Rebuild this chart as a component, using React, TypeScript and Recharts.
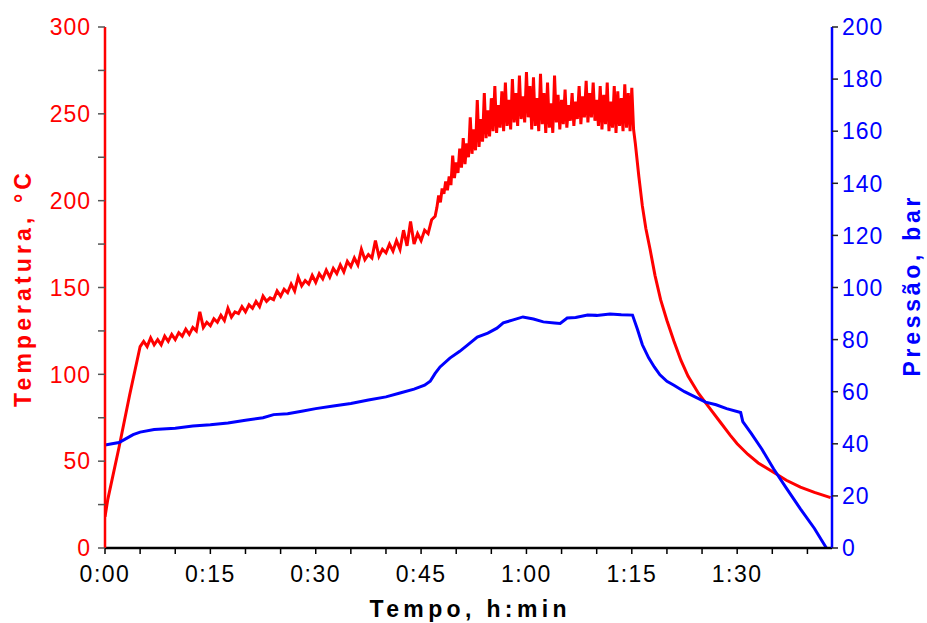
import { LineChart, Line, XAxis, YAxis } from "recharts";

const FONT = "'Liberation Sans', Arial, sans-serif";

// ticks
const timeTicks = [0, 5, 10, 15, 20, 25, 30, 35, 40, 45, 50, 55, 60, 65, 70, 75, 80, 85, 90, 95, 100];
const timeLabelTicks = [0, 15, 30, 45, 60, 75, 90];
const tempTicks = [0, 25, 50, 75, 100, 125, 150, 175, 200, 225, 250, 275, 300];
const tempLabelTicks = [0, 50, 100, 150, 200, 250, 300];
const pressureTicks = [0, 20, 40, 60, 80, 100, 120, 140, 160, 180, 200];

// temperatura (°C) vs tempo (min)
const tempHeating: [number, number][] = [
  [0, 18], [0.4, 28], [2, 58], [3.5, 88], [5, 116],
];

// 5.5 .. 47 min, every 0.5 min
const riseStart = 5.5;
const riseStep = 0.5;
const tempRise = [
  119, 116, 121, 117, 120, 117, 122, 119, 123, 120,
  124, 122, 126, 123, 127, 125, 136, 127, 130, 128,
  132, 130, 134, 131, 138, 133, 136, 135, 139, 136,
  140, 138, 142, 139, 145, 142, 144, 143, 148, 145,
  149, 147, 152, 148, 156, 151, 154, 152, 157, 153,
  158, 155, 160, 156, 161, 158, 163, 159, 165, 162,
  167, 163, 172, 166, 169, 167, 177, 168, 172, 170,
  175, 171, 177, 172, 183, 174, 188, 175, 181, 177,
  183, 181, 189, 191,
];

// 47.25 .. 75.25 min, every 0.25 min (one row per minute)
const plateauStart = 47.25;
const plateauStep = 0.25;
const tempPlateau = [
  196, 203, 199, 207,
  204, 211, 206, 214,
  209, 226, 213, 222,
  216, 230, 219, 236,
  221, 233, 225, 248,
  227, 241, 229, 258,
  231, 247, 234, 262,
  236, 252, 237, 259,
  240, 266, 239, 255,
  242, 263, 240, 268,
  243, 258, 241, 270,
  245, 262, 243, 272,
  247, 260, 245, 274,
  248, 266, 241, 271,
  243, 259, 240, 273,
  244, 262, 239, 268,
  242, 256, 239, 272,
  245, 261, 241, 258,
  244, 264, 242, 255,
  246, 262, 243, 257,
  247, 266, 244, 260,
  248, 269, 245, 262,
  248, 268, 246, 258,
  243, 266, 241, 261,
  244, 268, 240, 257,
  242, 266, 239, 263,
  243, 259, 240, 267,
  242, 262, 240, 265,
  241,
];

const tempCooling: [number, number][] = [
  [75.5, 233], [76, 214], [76.5, 197], [77, 184], [77.6, 172], [78.3, 157],
  [79.1, 143], [80, 131], [81, 119], [82, 108], [83, 99], [84.5, 89],
  [86, 81], [87.5, 73], [89, 65], [90, 60], [91.5, 54], [93, 49],
  [95.4, 43], [97, 39], [99, 35], [101, 32], [103.3, 29],
];

// pressão (bar) vs tempo (min)
const pressurePoints: [number, number][] = [
  [0, 39.5], [1, 40], [2, 40.5], [3, 42], [4, 43.5], [5, 44.5], [7, 45.5],
  [10, 46], [12.5, 46.8], [15, 47.3], [17.5, 48], [20, 49], [22.5, 50],
  [24, 51.2], [26, 51.5], [28, 52.5], [30, 53.5], [32.5, 54.5], [35, 55.5],
  [37.5, 56.8], [40, 58], [42, 59.5], [44, 61], [45.5, 62.5], [46.3, 64],
  [47, 67], [47.7, 69.5], [49.1, 72.9], [50.5, 75.5], [51.6, 77.9], [53, 81],
  [54.5, 82.5], [55.8, 84.4], [56.7, 86.4], [58, 87.5], [59.5, 88.7],
  [61, 87.9], [62.4, 86.8], [64, 86.4], [64.8, 86.2], [65.8, 88.3], [67, 88.5],
  [68.7, 89.4], [70, 89.3], [71.9, 89.8], [73.5, 89.5], [75.1, 89.4],
  [75.8, 84], [76.5, 78], [77.4, 73], [78.2, 69.5], [79, 66.5], [80, 64],
  [81, 62.5], [82.5, 60], [84, 58], [85.5, 56], [87, 55], [88.5, 53.5],
  [90.5, 52], [90.8, 48.5], [92, 44], [93.5, 38], [95.2, 30.3], [97, 23],
  [99, 15], [101, 7.5], [102.7, 0],
];

const tempData = [
  ...tempHeating.map(([t, v]) => ({ t, temp: v })),
  ...tempRise.map((v, i) => ({ t: riseStart + i * riseStep, temp: v })),
  ...tempPlateau.map((v, i) => ({ t: plateauStart + i * plateauStep, temp: v })),
  ...tempCooling.map(([t, v]) => ({ t, temp: v })),
];

const pressureData = pressurePoints.map(([t, v]) => ({ t, pres: v }));

const fmtTime = (m: number) => `${Math.floor(m / 60)}:${String(m % 60).padStart(2, "0")}`;

function TimeTick(props: any) {
  const { x, y, payload } = props;
  if (!timeLabelTicks.includes(payload.value)) return <g />;
  return (
    <text x={x} y={y} dy="0.71em" textAnchor="middle" fill="#000" fontSize={23} letterSpacing={1.5} fontFamily={FONT}>
      {fmtTime(payload.value)}
    </text>
  );
}

function TempTick(props: any) {
  const { x, y, payload } = props;
  if (!tempLabelTicks.includes(payload.value)) return <g />;
  return (
    <text x={x} y={y} dy="0.36em" textAnchor="end" fill="#ff0000" fontSize={23} letterSpacing={1} fontFamily={FONT}>
      {payload.value}
    </text>
  );
}

function PressureTick(props: any) {
  const { x, y, payload } = props;
  return (
    <text x={x} y={y} dy="0.36em" textAnchor="start" fill="#0000ff" fontSize={23} letterSpacing={1} fontFamily={FONT}>
      {payload.value}
    </text>
  );
}

// axis title at a fixed spot; "rot" avoids clashing with the props Label injects
function AxisTitle({ text, px, py, rot, color, length }: any) {
  return (
    <text
      x={px}
      y={py}
      transform={rot ? `rotate(${rot}, ${px}, ${py})` : undefined}
      textAnchor="middle"
      dominantBaseline="central"
      fill={color}
      fontSize={23}
      fontWeight="bold"
      fontFamily={FONT}
      textLength={length}
      lengthAdjust="spacing"
    >
      {text}
    </text>
  );
}

export default function App() {
  return (
    <div style={{ position: "absolute", left: 0, top: 0, width: 927, height: 623, background: "#fff" }}>
      <LineChart width={927} height={623} margin={{ top: 27, right: 0, bottom: 0, left: 0 }}>
        <XAxis
          dataKey="t"
          type="number"
          domain={[0, 103.5]}
          allowDataOverflow
          ticks={timeTicks}
          interval={0}
          height={75}
          axisLine={{ stroke: "#000", strokeWidth: 2.5 }}
          tickLine={{ stroke: "#000", strokeWidth: 1.5 }}
          tickSize={6}
          tickMargin={12}
          tick={<TimeTick />}
          label={<AxisTitle text="Tempo, h:min" px={468} py={609} color="#000" length={197} />}
        />
        <YAxis
          yAxisId="temp"
          orientation="left"
          domain={[0, 300]}
          ticks={tempTicks}
          interval={0}
          width={105}
          axisLine={{ stroke: "#ff0000", strokeWidth: 2.5 }}
          tickLine={{ stroke: "#555", strokeWidth: 1.5 }}
          tickSize={7}
          tickMargin={7}
          tick={<TempTick />}
          label={<AxisTitle text="Temperatura, °C" px={23} py={290} rot={-90} color="#ff0000" length={234} />}
        />
        <YAxis
          yAxisId="pres"
          orientation="right"
          domain={[0, 200]}
          ticks={pressureTicks}
          interval={0}
          width={95}
          axisLine={{ stroke: "#0000ff", strokeWidth: 2.5 }}
          tickLine={{ stroke: "#222", strokeWidth: 1.5 }}
          tickSize={6}
          tickMargin={4}
          tick={<PressureTick />}
          label={<AxisTitle text="Pressão, bar" px={912} py={287} rot={-90} color="#0000ff" length={179} />}
        />
        <Line
          yAxisId="temp"
          data={tempData}
          dataKey="temp"
          type="linear"
          stroke="#ff0000"
          strokeWidth={3}
          dot={false}
          isAnimationActive={false}
        />
        <Line
          yAxisId="pres"
          data={pressureData}
          dataKey="pres"
          type="linear"
          stroke="#0000ff"
          strokeWidth={3}
          dot={false}
          isAnimationActive={false}
        />
      </LineChart>
    </div>
  );
}
